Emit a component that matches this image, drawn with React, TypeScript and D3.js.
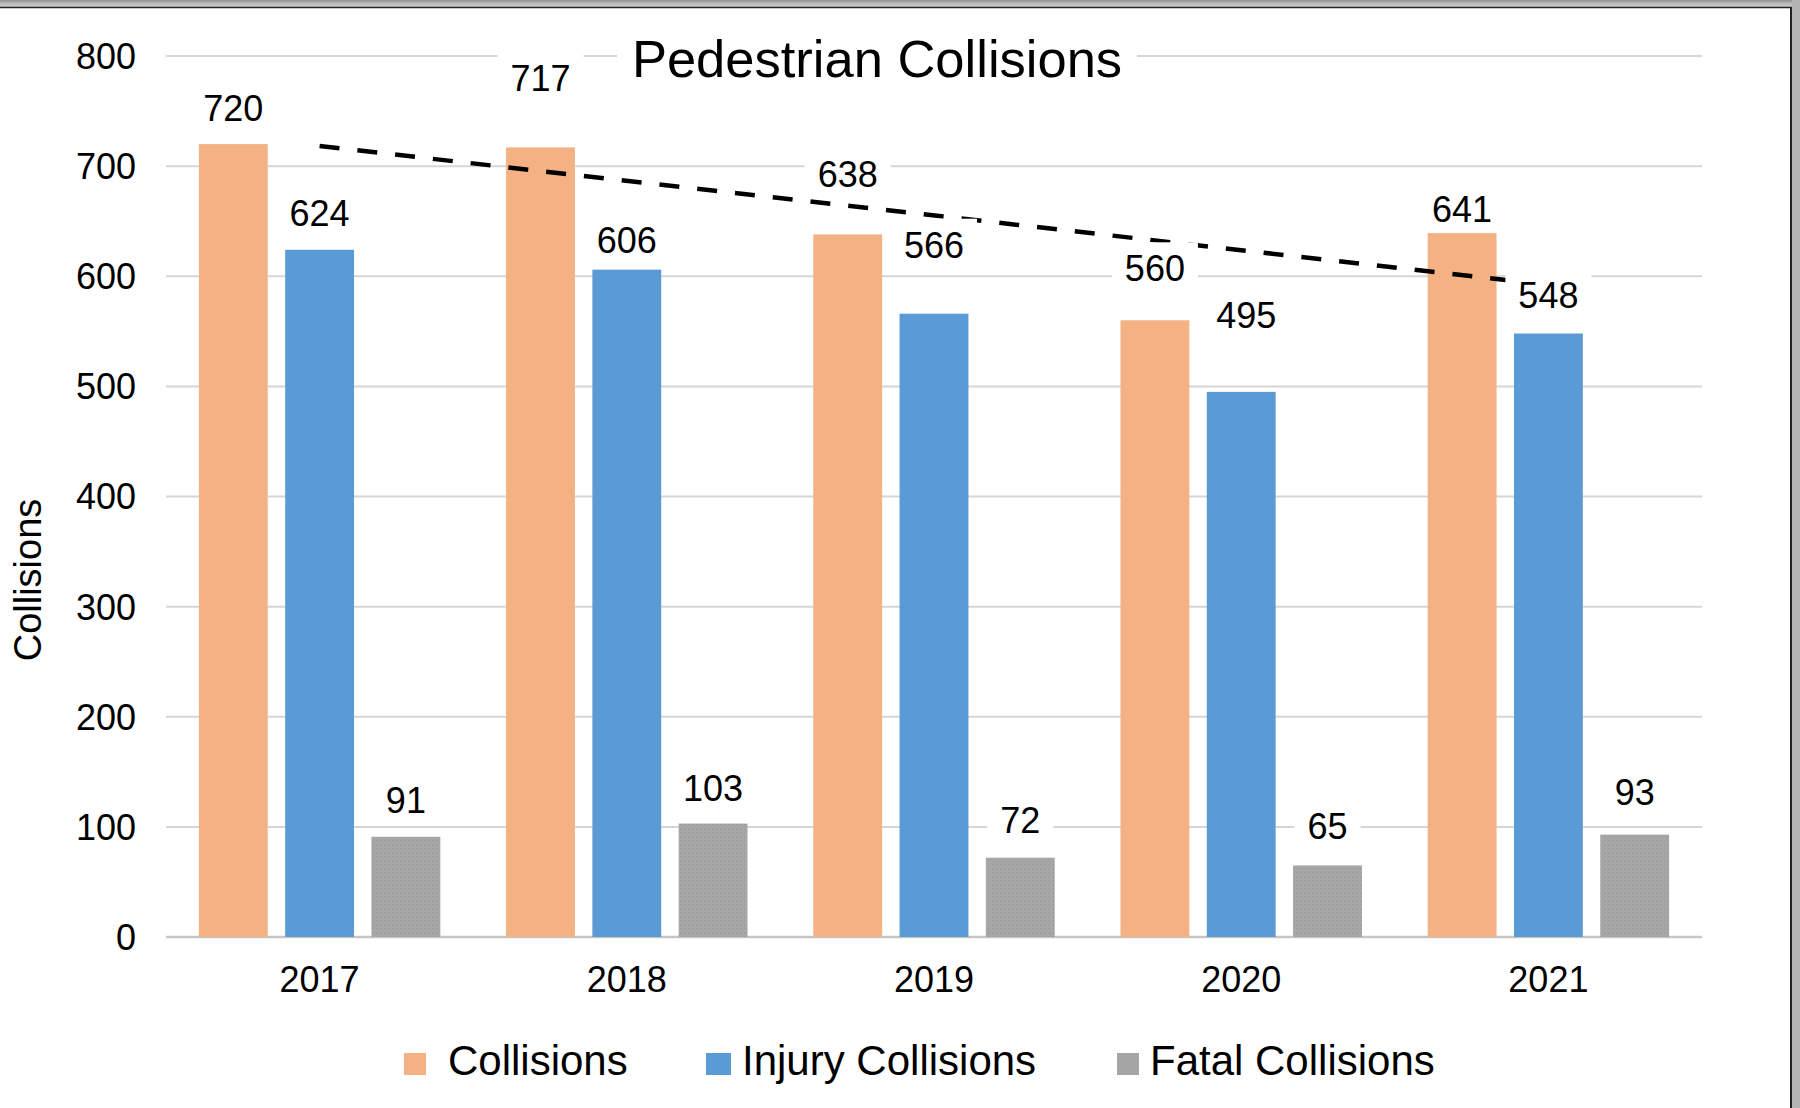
import React from "react";
import * as d3 from "d3";

const years = ["2017", "2018", "2019", "2020", "2021"];
const seriesNames = ["Collisions", "Injury Collisions", "Fatal Collisions"];
const collisions = [720, 717, 638, 560, 641];
const injuryCollisions = [624, 606, 566, 495, 548];
const fatalCollisions = [91, 103, 72, 65, 93];
const yTicks = [0, 100, 200, 300, 400, 500, 600, 700, 800];
const chartTitle = "Pedestrian Collisions";
const yAxisTitle = "Collisions";

// manual data-label placement (px above bar top, label centre), as dragged in the source chart
const labelLift = [
  [36, 69, 60, 52, 22],
  [37, 30, 69, 77, 38],
  [37, 36, 38, 39, 43],
];
const labelShiftX = [
  [0, 0, 0, 0, 0],
  [0, 0, 0, 5, 0],
  [0, 0, 0, 0, 0],
];

const seriesValues = [collisions, injuryCollisions, fatalCollisions];
const colors = ["#F4B183", "#5B9BD5", "url(#grayDots)"];
const legendSwatch = ["#F4B183", "#5B9BD5", "#A5A5A5"];

const W = 1800;
const H = 1108;
const FONT = "'Liberation Sans', Arial, Helvetica, sans-serif";

export default function App() {
  const x0 = d3.scaleBand<string>().domain(years).range([166, 1702]).paddingInner(0).paddingOuter(0);
  const x1 = d3
    .scaleBand<string>()
    .domain(seriesNames)
    .range([0, x0.bandwidth()])
    .paddingInner(0.202)
    .paddingOuter(0.381);
  const y = d3.scaleLinear().domain([0, 800]).range([937, 56]);

  // linear trendline for Collisions (least squares)
  const xs = collisions.map((_, i) => i + 1);
  const mx = d3.mean(xs) as number;
  const my = d3.mean(collisions) as number;
  const slope =
    d3.sum(xs.map((xv, i) => (xv - mx) * (collisions[i] - my))) /
    d3.sum(xs.map((xv) => (xv - mx) * (xv - mx)));
  const intercept = my - slope * mx;
  const center = (i: number) => (x0(years[i]) as number) + x0.bandwidth() / 2;
  const trend = d3
    .line<number>()
    .x((i) => center(i))
    .y((i) => y(intercept + slope * (i + 1)));
  const trendPts = [0, years.length - 1];

  const legendItems = [
    { sx: 404, tx: 448, sw: 22 },
    { sx: 706, tx: 742, sw: 25 },
    { sx: 1117, tx: 1150, sw: 22 },
  ];

  const charW = 0.556 * 36;

  return (
    <svg
      width={W}
      height={H}
      viewBox={`0 0 ${W} ${H}`}
      style={{ position: "absolute", left: 0, top: 0, display: "block", background: "#fff" }}
      fontFamily={FONT}
    >
      <defs>
        <pattern id="grayDots" width="4" height="4" patternUnits="userSpaceOnUse">
          <rect width="4" height="4" fill="#A8A8A8" />
          <circle cx="1" cy="1" r="0.8" fill="#959595" />
          <circle cx="3" cy="3" r="0.6" fill="#9c9c9c" />
        </pattern>
        <linearGradient id="topBar" x1="0" y1="0" x2="0" y2="1">
          <stop offset="0" stopColor="#8f8f8f" />
          <stop offset="0.5" stopColor="#b8b8b8" />
          <stop offset="1" stopColor="#c9c9c9" />
        </linearGradient>
      </defs>
      <rect x={0} y={0} width={W} height={H} fill="#fff" />

      {/* gridlines */}
      {yTicks.map((t) => (
        <line
          key={"g" + t}
          x1={166}
          x2={1702}
          y1={y(t)}
          y2={y(t)}
          stroke={t === 0 ? "#c6c6c6" : "#d6d6d6"}
          strokeWidth={t === 0 ? 2.5 : 2}
        />
      ))}

      {/* title with white box */}
      <rect x={617} y={28} width={520} height={58} fill="#fff" />
      <text x={877} y={77} textAnchor="middle" fontSize={52.5} fill="#000">
        {chartTitle}
      </text>

      {/* y tick labels */}
      {yTicks.map((t) => (
        <text key={"yt" + t} x={136} y={y(t)} dy="0.36em" textAnchor="end" fontSize={36} fill="#000">
          {t}
        </text>
      ))}

      {/* y axis title */}
      <text
        transform={`translate(41,580) rotate(-90)`}
        textAnchor="middle"
        fontSize={38}
        fill="#000"
      >
        {yAxisTitle}
      </text>

      {/* x tick labels */}
      {years.map((yr) => (
        <text
          key={"xt" + yr}
          x={(x0(yr) as number) + x0.bandwidth() / 2}
          y={992}
          textAnchor="middle"
          fontSize={36}
          fill="#000"
        >
          {yr}
        </text>
      ))}

      {/* bars */}
      {seriesNames.map((s, si) =>
        years.map((yr, i) => (
          <rect
            key={s + yr}
            x={(x0(yr) as number) + (x1(s) as number)}
            y={y(seriesValues[si][i])}
            width={x1.bandwidth()}
            height={y(0) - y(seriesValues[si][i])}
            fill={colors[si]}
          />
        ))
      )}

      {/* trendline */}
      <path
        d={trend(trendPts) as string}
        fill="none"
        stroke="#000"
        strokeWidth={4.5}
        strokeDasharray="20 18"
      />

      {/* data labels */}
      {seriesNames.map((s, si) =>
        years.map((yr, i) => {
          const v = seriesValues[si][i];
          const cx = (x0(yr) as number) + (x1(s) as number) + x1.bandwidth() / 2 + labelShiftX[si][i];
          const cy = y(v) - labelLift[si][i];
          const tw = String(v).length * charW;
          return (
            <g key={"l" + s + yr}>
              <rect x={cx - tw / 2 - 13} y={cy - 26} width={tw + 26} height={50} fill="#fff" />
              <text x={cx} y={cy} dy="0.36em" textAnchor="middle" fontSize={36} fill="#000">
                {v}
              </text>
            </g>
          );
        })
      )}

      {/* legend */}
      {seriesNames.map((s, si) => (
        <g key={"lg" + s}>
          <rect x={legendItems[si].sx} y={1053} width={legendItems[si].sw} height={22} fill={legendSwatch[si]} />
          <text x={legendItems[si].tx} y={1075} fontSize={42} fill="#000">
            {s}
          </text>
        </g>
      ))}

      {/* window frame */}
      <rect x={0} y={0} width={W} height={7} fill="url(#topBar)" />
      <line x1={0} x2={1792} y1={7.5} y2={7.5} stroke="#222" strokeWidth={1.5} />
      <rect x={1792} y={0} width={8} height={H} fill="#b4b4b4" />
      <line x1={1791} x2={1791} y1={7} y2={H} stroke="#222" strokeWidth={2} />
    </svg>
  );
}
